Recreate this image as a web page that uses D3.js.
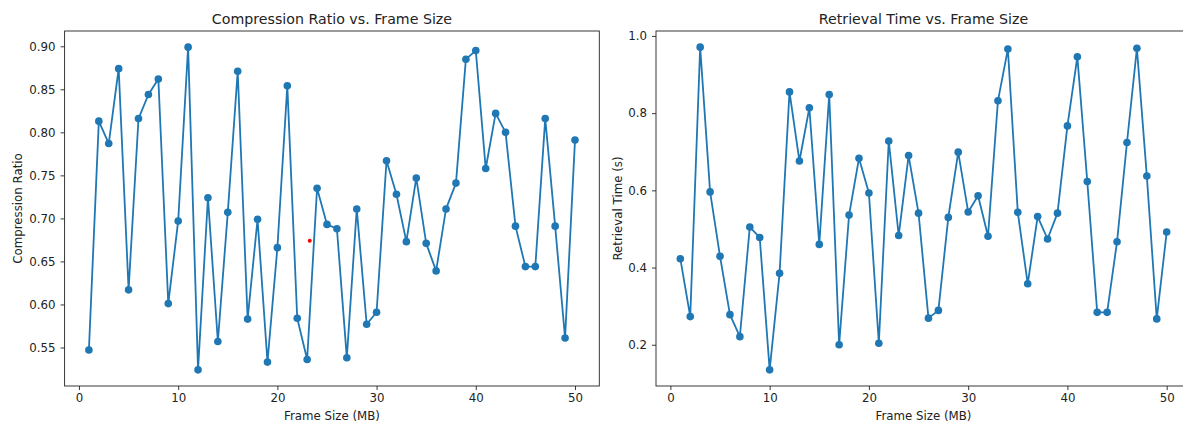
<!DOCTYPE html>
<html lang="en">
<head>
  <meta charset="UTF-8">
  <title>Compression Ratio and Retrieval Time vs. Frame Size</title>
  <script src="https://d3js.org/d3.v7.min.js"></script>
  <style>
    body { margin: 0; background: #fff; }
    text { font-family: "DejaVu Sans", sans-serif; fill: #222; }
  </style>
</head>
<body>
<svg id="chart" width="1183" height="427"></svg>
<script>
// frame sizes in MB
const frameSizes = d3.range(1, 51);

// compression ratio per frame size
const compressionRatio = [
  0.547, 0.813, 0.787, 0.874, 0.617, 0.816, 0.844, 0.862, 0.601, 0.697,
  0.899, 0.524, 0.724, 0.557, 0.707, 0.871, 0.583, 0.699, 0.533, 0.666,
  0.854, 0.584, 0.536, 0.735, 0.693, 0.688, 0.538, 0.711, 0.577, 0.591,
  0.767, 0.728, 0.673, 0.747, 0.671, 0.639, 0.711, 0.741, 0.885, 0.895,
  0.758, 0.822, 0.800, 0.691, 0.644, 0.644, 0.816, 0.691, 0.561, 0.791
];

// retrieval time (s) per frame size
const retrievalTime = [
  0.423, 0.273, 0.971, 0.596, 0.429, 0.278, 0.221, 0.505, 0.478, 0.135,
  0.385, 0.855, 0.676, 0.814, 0.460, 0.848, 0.200, 0.536, 0.683, 0.593,
  0.204, 0.728, 0.483, 0.690, 0.541, 0.269, 0.289, 0.530, 0.699, 0.544,
  0.586, 0.481, 0.832, 0.966, 0.543, 0.358, 0.532, 0.474, 0.541, 0.767,
  0.946, 0.623, 0.284, 0.284, 0.467, 0.724, 0.968, 0.637, 0.267, 0.492
];

// stray red marker on the left panel
const redMark = [{x: 23.26, y: 0.674}];

const xTicks = [0, 10, 20, 30, 40, 50];
const ratioTicks = [0.55, 0.60, 0.65, 0.70, 0.75, 0.80, 0.85, 0.90];
const timeTicks = [0.2, 0.4, 0.6, 0.8, 1.0];

const svg = d3.select("#chart");
const blue = "#1f77b4";

// matplotlib-ish 5% margins
function padded(vals) {
  const [lo, hi] = d3.extent(vals);
  const m = (hi - lo) * 0.05;
  return [lo - m, hi + m];
}

function panel(opts) {
  const {left, right, top, bottom, ys, yTicks, yFmt, title, yLabel, labelOff, extra} = opts;
  const g = svg.append("g");

  const x = d3.scaleLinear().domain(padded(frameSizes)).range([left, right]);
  const y = d3.scaleLinear().domain(padded(ys)).range([bottom, top]);
  const pts = frameSizes.map((f, i) => ({x: f, y: ys[i]}));

  // x axis
  const xa = g.append("g")
    .attr("transform", `translate(0,${bottom})`)
    .call(d3.axisBottom(x).tickValues(xTicks).tickFormat(d3.format("d")).tickSizeOuter(0).tickSize(4).tickPadding(4));
  // y axis
  const ya = g.append("g")
    .attr("transform", `translate(${left},0)`)
    .call(d3.axisLeft(y).tickValues(yTicks).tickFormat(d3.format(yFmt)).tickSizeOuter(0).tickSize(4).tickPadding(5));
  [xa, ya].forEach(a => {
    a.select(".domain").remove();
    a.selectAll(".tick line").attr("stroke", "#222").attr("stroke-width", 0.9);
    a.selectAll(".tick text").attr("font-size", "11.8px").attr("fill", "#222");
  });

  // frame
  g.append("rect")
    .attr("x", left).attr("y", top)
    .attr("width", right - left).attr("height", bottom - top)
    .attr("fill", "none").attr("stroke", "#222").attr("stroke-width", 0.9);

  const line = d3.line().x(d => x(d.x)).y(d => y(d.y));
  g.append("path").datum(pts)
    .attr("d", line)
    .attr("fill", "none").attr("stroke", blue).attr("stroke-width", 1.8)
    .attr("stroke-linejoin", "round");

  g.selectAll("circle.pt").data(pts).join("circle")
    .attr("class", "pt")
    .attr("cx", d => x(d.x)).attr("cy", d => y(d.y))
    .attr("r", 3.8).attr("fill", blue);

  if (extra) {
    g.selectAll("circle.red").data(extra).join("circle")
      .attr("class", "red")
      .attr("cx", d => x(d.x)).attr("cy", d => y(d.y))
      .attr("r", 2).attr("fill", "red");
  }

  g.append("text")
    .attr("x", (left + right) / 2).attr("y", top - 7)
    .attr("text-anchor", "middle").attr("font-size", "14.2px")
    .text(title);

  g.append("text")
    .attr("x", (left + right) / 2).attr("y", bottom + 34)
    .attr("text-anchor", "middle").attr("font-size", "11.8px")
    .text("Frame Size (MB)");

  g.append("text")
    .attr("transform", `translate(${left - labelOff},${(top + bottom) / 2}) rotate(-90)`)
    .attr("text-anchor", "middle").attr("font-size", "11.8px")
    .text(yLabel);
}

panel({
  left: 64.6, right: 599.3, top: 31, bottom: 386,
  ys: compressionRatio, yTicks: ratioTicks, yFmt: ".2f",
  title: "Compression Ratio vs. Frame Size", yLabel: "Compression Ratio",
  labelOff: 43, extra: redMark
});

panel({
  left: 656, right: 1191, top: 31, bottom: 386,
  ys: retrievalTime, yTicks: timeTicks, yFmt: ".1f",
  title: "Retrieval Time vs. Frame Size", yLabel: "Retrieval Time (s)",
  labelOff: 34
});
</script>
</body>
</html>
